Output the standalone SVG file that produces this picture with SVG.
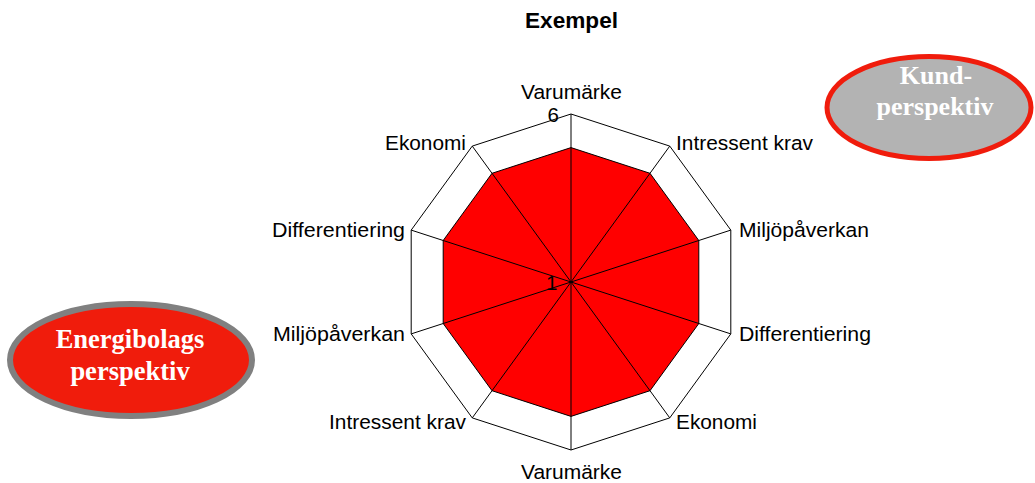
<svg xmlns="http://www.w3.org/2000/svg" width="1035" height="483" viewBox="0 0 1035 483">
<style>
.lbl{font-family:"Liberation Sans",Arial,sans-serif;font-size:20.5px;fill:#000}
.ttl{font-family:"Liberation Sans",Arial,sans-serif;font-size:22px;font-weight:bold;fill:#000}
.ell{font-family:"Liberation Serif","Times New Roman",serif;font-size:26.5px;font-weight:bold;fill:#fff;text-anchor:middle}
.grid{fill:none;stroke:#000;stroke-width:1}
.spoke{stroke:#000;stroke-width:1}
</style>
<rect width="1035" height="483" fill="#fff"/>
<g id="title"><text class="ttl" x="525" y="28" textLength="93" lengthAdjust="spacingAndGlyphs">Exempel</text></g>
<g id="chart">
<polygon id="outer" class="grid" points="571,114 669.75,146.1 730.8,230.1 730.8,333.9 669.75,417.9 571,450 472.25,417.9 411.2,333.9 411.2,230.1 472.25,146.1"/>
<polygon id="data" fill="#ff0000" stroke="#000" stroke-width="1" points="571,147.6 650,173.3 698.8,240.5 698.8,323.5 650,390.7 571,416.4 492,390.7 443.2,323.5 443.2,240.5 492,173.3"/>
<g id="spokes">
<line class="spoke" x1="571" y1="282" x2="571" y2="114"/>
<line class="spoke" x1="571" y1="282" x2="669.75" y2="146.1"/>
<line class="spoke" x1="571" y1="282" x2="730.8" y2="230.1"/>
<line class="spoke" x1="571" y1="282" x2="730.8" y2="333.9"/>
<line class="spoke" x1="571" y1="282" x2="669.75" y2="417.9"/>
<line class="spoke" x1="571" y1="282" x2="571" y2="450"/>
<line class="spoke" x1="571" y1="282" x2="472.25" y2="417.9"/>
<line class="spoke" x1="571" y1="282" x2="411.2" y2="333.9"/>
<line class="spoke" x1="571" y1="282" x2="411.2" y2="230.1"/>
<line class="spoke" x1="571" y1="282" x2="472.25" y2="146.1"/>
</g>
<text class="lbl" x="547.5" y="122">6</text>
<text class="lbl" x="546" y="289.5">1</text>
</g>
<g id="labels">
<text class="lbl" x="521" y="98.5" textLength="101" lengthAdjust="spacingAndGlyphs">Varumärke</text>
<text class="lbl" x="676" y="150" textLength="137" lengthAdjust="spacingAndGlyphs">Intressent krav</text>
<text class="lbl" x="739" y="237" textLength="130" lengthAdjust="spacingAndGlyphs">Miljöpåverkan</text>
<text class="lbl" x="739" y="341" textLength="132" lengthAdjust="spacingAndGlyphs">Differentiering</text>
<text class="lbl" x="676" y="428.5" textLength="81" lengthAdjust="spacingAndGlyphs">Ekonomi</text>
<text class="lbl" x="521" y="479" textLength="101" lengthAdjust="spacingAndGlyphs">Varumärke</text>
<text class="lbl" x="329" y="428.5" textLength="137" lengthAdjust="spacingAndGlyphs">Intressent krav</text>
<text class="lbl" x="273" y="341" textLength="132" lengthAdjust="spacingAndGlyphs">Miljöpåverkan</text>
<text class="lbl" x="272" y="237" textLength="133" lengthAdjust="spacingAndGlyphs">Differentiering</text>
<text class="lbl" x="385" y="150" textLength="81" lengthAdjust="spacingAndGlyphs">Ekonomi</text>
</g>
<g id="kund">
<ellipse cx="929" cy="107.5" rx="102" ry="51" fill="#b3b3b3" stroke="#f01c0c" stroke-width="5"/>
<text class="ell" x="936" y="84" style="font-size:26px">Kund-</text>
<text class="ell" x="935" y="115" style="font-size:26px">perspektiv</text>
</g>
<g id="energi">
<ellipse cx="131" cy="360" rx="121" ry="56" fill="#f01c0c" stroke="#808080" stroke-width="6"/>
<text class="ell" x="130" y="348">Energibolags</text>
<text class="ell" x="130" y="380">perspektiv</text>
</g>
</svg>
